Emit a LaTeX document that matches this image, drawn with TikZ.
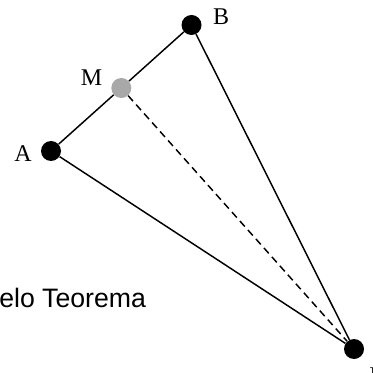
\documentclass[tikz,border=0pt]{standalone}
\usepackage{fontspec}
\setmainfont{Liberation Serif}
\setsansfont{Liberation Sans}
\usepackage{tikz}
\usetikzlibrary{positioning}
\definecolor{midgray}{RGB}{168, 168, 168}

\begin{document}
\begin{tikzpicture}[
  x=0.75pt, y=-0.75pt,
  dot/.style={circle, inner sep=0pt, minimum size=15pt, fill=#1},
  lbl/.style={inner sep=0pt, font=\fontsize{18}{21}\selectfont},
  edge/.style={line width=1.1pt, color=black},
  dedge/.style={line width=1.1pt, color=black, dash pattern=on 5.5pt off 3.5pt}
]
\useasboundingbox (0,0) rectangle (372,373);

% Points
\node[dot=black] (a) at (51,151) {};
\node[dot=black] (b) at (191.5,25) {};
\node[dot=midgray] (m) at (121.3,88) {};
\node[dot=black] (i) at (354,349) {};

% Labels
\node[lbl] (la) at (23,154) {A};
\node[lbl] (lb) at (221,16.5) {B};
\node[lbl] (lm) at (91.5,78) {M};
\node[lbl, anchor=north west] (li) at (369,368) {I};

% Text
\node[inner sep=0pt, anchor=base west, font=\sffamily\fontsize{20}{24}\selectfont] (txt) at (-1,307) {elo Teorema};

% Sides
\draw[edge] (a) -- (m);
\draw[edge] (m) -- (b);
\draw[edge] (b) -- (i);
\draw[edge] (a) -- (i);
\draw[dedge] (m) -- (i);

\end{tikzpicture}
\end{document}
